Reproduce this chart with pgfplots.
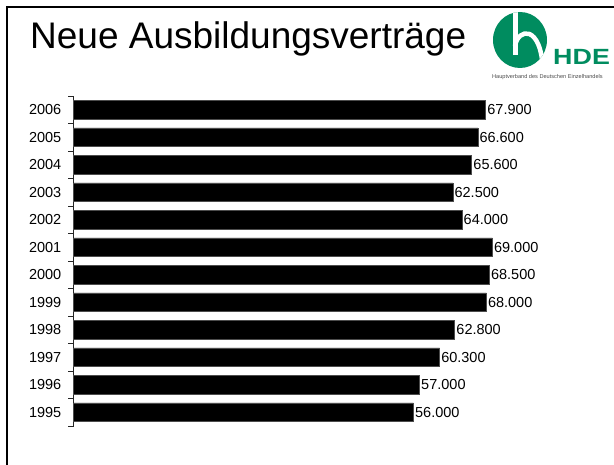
\documentclass[border=0pt]{standalone}
\usepackage{fontspec}
\setmainfont{Liberation Sans}
\usepackage{pgfplots}
\pgfplotsset{compat=1.18}
\definecolor{hdegreen}{RGB}{0,140,95}
\begin{document}
\begin{tikzpicture}[x=1pt,y=1pt]
\useasboundingbox (0,0) rectangle (614,464);
\draw[line width=1.5pt] (7,-10) -- (7,457) -- (620,457);
\node[anchor=base west, inner sep=0pt, font=\fontsize{37}{40}\selectfont] at (30,415) {Neue Ausbildungsverträge};
% logo
\fill[hdegreen] (520,424) ellipse [x radius=27, y radius=28];
\begin{scope}
\clip (520,424) ellipse [x radius=27, y radius=28];
\draw[white, line width=5pt] (515,460) -- (515,409);
\draw[white, line width=4.5pt] (515,418) .. controls (518,436) and (541,440) .. (543,394);
\end{scope}
\node[anchor=base west, inner sep=0pt, text=hdegreen, xscale=1.22, font=\bfseries\fontsize{22}{22}\selectfont] at (553,399) {HDE};
\node[anchor=base west, inner sep=0pt, text=black!70, font=\fontsize{5.6}{6}\selectfont] at (492,385) {Hauptverband des Deutschen Einzelhandels};
\begin{axis}[
  at={(73.5pt,38pt)}, anchor=south west, scale only axis,
  width=546.3pt, height=330pt,
  xmin=0, xmax=90000, ymin=0.5, ymax=12.5,
  axis x line=none, axis y line*=left,
  y axis line style={line width=0.8pt, black!85},
  ytick={1,2,3,4,5,6,7,8,9,10,11,12},
  yticklabels={1995,1996,1997,1998,1999,2000,2001,2002,2003,2004,2005,2006},
  major tick length=0pt,
  minor ytick={0.5,1.5,2.5,3.5,4.5,5.5,6.5,7.5,8.5,9.5,10.5,11.5,12.5},
  minor tick length=5pt, tick align=outside,
  minor tick style={line width=0.8pt, black!85},
  yticklabel style={font=\fontsize{14.5}{14.5}\selectfont, inner sep=0pt, xshift=-12pt},
  xbar, bar width=18.5pt,
  nodes near coords, point meta=x,
  nodes near coords align=horizontal,
  every node near coord/.style={font=\fontsize{14.5}{14.5}\selectfont, inner sep=1.5pt, anchor=west, black},
  /pgf/number format/fixed, /pgf/number format/precision=0,
  /pgf/number format/1000 sep={.},
  /pgf/number format/assume math mode=true,
  clip=false,
]
\addplot[fill=black, draw=black!70, line width=0.5pt] coordinates {
(56000,1) (57000,2) (60300,3) (62800,4) (68000,5) (68500,6)
(69000,7) (64000,8) (62500,9) (65600,10) (66600,11) (67900,12)
};
\end{axis}
\end{tikzpicture}
\end{document}
